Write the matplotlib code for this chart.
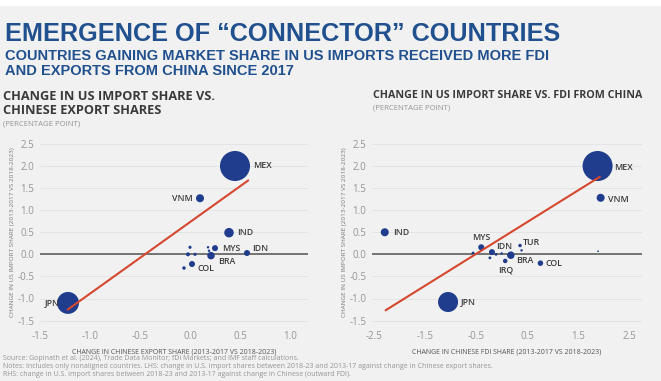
import matplotlib
matplotlib.use("Agg")
import matplotlib.pyplot as plt
from matplotlib.patches import Rectangle

# left panel: change in Chinese export share vs change in US import share
left_names = ["MEX", "JPN", "VNM", "IND", "MYS", "IDN", "BRA", "COL",
              "", "", "", "", "", ""]
left_x = [0.45, -1.22, 0.10, 0.39, 0.25, 0.57, 0.21, 0.02,
          -0.06, 0.00, -0.02, 0.05, 0.18, 0.19]
left_y = [2.00, -1.10, 1.27, 0.49, 0.14, 0.03, -0.03, -0.22,
          -0.31, 0.16, 0.00, 0.00, 0.16, 0.08]
left_weight = [90, 48, 6.4, 9, 3.6, 3.6, 5.6, 3.6,
               1.2, 1.0, 1.6, 1.0, 0.6, 0.6]
left_fit = (1.62, 0.73)          # slope, intercept
left_fit_x = [-1.22, 0.58]

# right panel: change in Chinese FDI share vs change in US import share
right_names = ["MEX", "JPN", "VNM", "IND", "MYS", "IDN", "BRA", "IRQ", "TUR", "COL",
               "", "", "", "", "", ""]
right_x = [1.88, -1.05, 1.94, -2.29, -0.40, -0.19, 0.18, 0.07, 0.36, 0.76,
           -0.56, -0.23, -0.11, 0.00, 0.39, 1.89]
right_y = [2.00, -1.08, 1.28, 0.50, 0.16, 0.05, -0.02, -0.15, 0.20, -0.20,
           0.03, -0.08, 0.00, 0.02, 0.09, 0.07]
right_weight = [90, 40, 6.4, 6.4, 3.6, 3.6, 5.6, 2.0, 1.2, 3.0,
                0.8, 0.8, 0.8, 0.6, 0.6, 0.3]
right_fit = (0.72, 0.37)
right_fit_x = [-2.27, 1.92]

# label offsets (points) and alignment
left_offsets = {"MEX": (13, 0, "left"), "JPN": (-6, 0, "right"), "VNM": (-5, 0, "right"),
                "IND": (6, 0, "left"), "MYS": (5, 0, "left"), "IDN": (4, 3, "left"),
                "BRA": (5, -4, "left"), "COL": (4, -3.5, "left")}
right_offsets = {"MEX": (12, -1, "left"), "VNM": (5, -1.5, "left"), "IND": (6, 0, "left"),
                 "JPN": (9, 0, "left"), "MYS": (0, 7, "center"), "IDN": (3, 4, "left"),
                 "TUR": (2, 2.5, "left"), "BRA": (4, -3.6, "left"), "IRQ": (0, -6.5, "center"),
                 "COL": (4, 0, "left")}

BLUE = "#1f3d8c"
TITLE_BLUE = "#21508f"
RED = "#d5472f"
BG = "#f1f1f1"
GRAY = "#959595"
DARK = "#3a3a3a"
SCALE = 5.2

fig = plt.figure(figsize=(6.61, 3.81), dpi=100, facecolor=BG)
fig.patches.append(Rectangle((0, 1 - 6 / 381), 1, 6 / 381, transform=fig.transFigure,
                             facecolor="white", edgecolor="none"))

fig.text(5 / 661, 1 - 34 / 381, "EMERGENCE OF \u201cCONNECTOR\u201d COUNTRIES",
         family="Liberation Sans", weight="bold", size=18.2, color=TITLE_BLUE, va="center")
fig.text(5 / 661, 1 - 56 / 381, "COUNTRIES GAINING MARKET SHARE IN US IMPORTS RECEIVED MORE FDI",
         family="Liberation Sans", weight="bold", size=10.5,
         color=TITLE_BLUE, va="center")
fig.text(5 / 661, 1 - 71 / 381, "AND EXPORTS FROM CHINA SINCE 2017",
         family="Liberation Sans", weight="bold", size=10.5,
         color=TITLE_BLUE, va="center")

fig.text(3 / 661, 1 - 97 / 381, "CHANGE IN US IMPORT SHARE VS.", family="Open Sans",
         weight="bold", size=9.2, color=DARK, va="center")
fig.text(3 / 661, 1 - 111 / 381, "CHINESE EXPORT SHARES", family="Open Sans",
         weight="bold", size=9.2, color=DARK, va="center")
fig.text(3 / 661, 1 - 124 / 381, "(PERCENTAGE POINT)", family="Open Sans",
         size=5.6, color=GRAY, va="center")
fig.text(373 / 661, 1 - 96 / 381, "CHANGE IN US IMPORT SHARE VS. FDI FROM CHINA",
         family="Open Sans", weight="bold", size=7.7, color=DARK, va="center")
fig.text(373 / 661, 1 - 108 / 381, "(PERCENTAGE POINT)", family="Open Sans",
         size=5.6, color=GRAY, va="center")

notes = [
    "Source: Gopinath et al. (2024), Trade Data Monitor; fDi Markets; and IMF staff calculations.",
    "Notes: Includes only nonaligned countries. LHS: change in U.S. import shares between 2018-23 "
    "and 2013-17 against change in Chinese export shares.",
    "RHS: change in U.S. import shares between 2018-23 and 2013-17 against change in Chinese (outward FDI).",
]
for i, line in enumerate(notes):
    fig.text(3 / 661, 1 - (358 + 8 * i) / 381, line, family="Open Sans", size=5.0,
             color=GRAY, va="center")


def panel(ax, names, xs, ys, weights, fit, fit_x, offsets, xlim, xticks, xlabel):
    ax.set_facecolor(BG)
    for s in ax.spines.values():
        s.set_visible(False)
    ax.set_xlim(*xlim)
    ax.set_ylim(-1.6, 2.6)
    ax.set_yticks([-1.5, -1.0, -0.5, 0.0, 0.5, 1.0, 1.5, 2.0, 2.5])
    ax.set_xticks(xticks)
    ax.yaxis.set_major_formatter(matplotlib.ticker.FormatStrFormatter("%.1f"))
    ax.xaxis.set_major_formatter(matplotlib.ticker.FormatStrFormatter("%.1f"))
    ax.tick_params(length=0, labelsize=7, labelcolor=GRAY, pad=4)
    for lab in ax.get_xticklabels() + ax.get_yticklabels():
        lab.set_family("Open Sans")
    ax.grid(axis="y", color="#e2e2e2", linewidth=0.6)
    ax.axhline(0, color="#5f5f5f", linewidth=1.2, zorder=2)
    ax.scatter(xs, ys, s=[w * SCALE for w in weights], color=BLUE, edgecolors="none", zorder=3)
    a, b = fit
    ax.plot(fit_x, [a * v + b for v in fit_x], color=RED, linewidth=1.5, zorder=4)
    for n, x, y in zip(names, xs, ys):
        if n in offsets:
            dx, dy, ha = offsets[n]
            ax.annotate(n, (x, y), xytext=(dx, dy), textcoords="offset points",
                        ha=ha, va="center", fontsize=6.3, color=DARK,
                        family="Open Sans", weight="semibold", zorder=5)
    ax.set_xlabel(xlabel, family="Open Sans", size=5.0, color="#555555", labelpad=5)
    ax.set_ylabel("CHANGE IN US IMPORT SHARE (2013-2017 VS 2018-2023)", family="Open Sans",
                  size=4.6, color="#777777", labelpad=2)


ax1 = fig.add_axes([40 / 661, 56 / 381, 268 / 661, 185.5 / 381])
panel(ax1, left_names, left_x, left_y, left_weight, left_fit, left_fit_x, left_offsets,
      (-1.5, 1.18), [-1.5, -1.0, -0.5, 0.0, 0.5, 1.0],
      "CHANGE IN CHINESE EXPORT SHARE (2013-2017 VS 2018-2023)")

ax2 = fig.add_axes([372 / 661, 56 / 381, 270 / 661, 185.5 / 381])
panel(ax2, right_names, right_x, right_y, right_weight, right_fit, right_fit_x, right_offsets,
      (-2.54, 2.75), [-2.5, -1.5, -0.5, 0.5, 1.5, 2.5],
      "CHANGE IN CHINESE FDI SHARE (2013-2017 VS 2018-2023)")

fig.savefig("out.png", dpi=100, facecolor=BG)
